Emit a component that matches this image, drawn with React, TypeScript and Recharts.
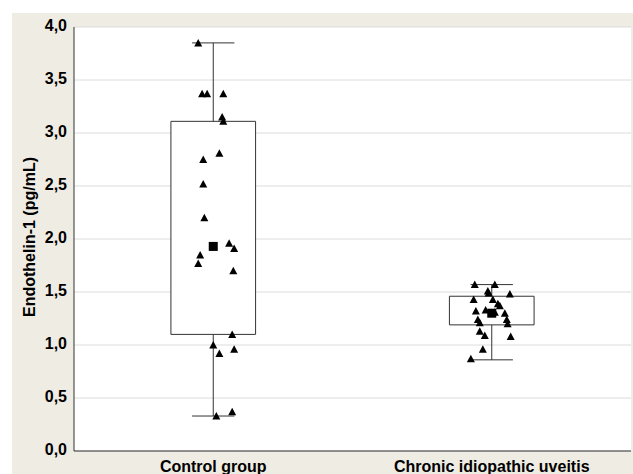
import { ScatterChart, Scatter, XAxis, YAxis, CartesianGrid, ReferenceArea, ReferenceLine } from 'recharts';

// groups sit at x = 0.5 and 1.5 on a 0..2 numeric axis
const groups = ['Control group', 'Chronic idiopathic uveitis'];
const groupCenters = [0.5, 1.5];
const yTicks = [0, 0.5, 1, 1.5, 2, 2.5, 3, 3.5, 4];

// box (low/high), whiskers (min/max) and mean per group
const boxLow = [1.1, 1.19];
const boxHigh = [3.11, 1.46];
const whiskerLow = [0.33, 0.86];
const whiskerHigh = [3.85, 1.57];
const means = [1.93, 1.3];

// raw observations with their horizontal jitter (axis units)
const controlValues = [3.85, 3.37, 3.37, 3.37, 3.15, 3.11, 2.81, 2.75, 2.52, 2.2, 1.96, 1.91, 1.85, 1.77, 1.7, 1.1, 1.0, 0.96, 0.92, 0.37, 0.33];
const controlJitter = [-0.054, -0.04, -0.022, 0.036, 0.032, 0.036, 0.022, -0.036, -0.036, -0.032, 0.057, 0.075, -0.047, -0.054, 0.072, 0.068, 0, 0.075, 0.022, 0.068, 0.011];
const uveitisValues = [1.57, 1.57, 1.51, 1.49, 1.48, 1.43, 1.43, 1.39, 1.37, 1.33, 1.32, 1.31, 1.3, 1.24, 1.24, 1.21, 1.2, 1.13, 1.09, 1.08, 0.96, 0.87];
const uveitisJitter = [-0.061, 0.011, -0.014, -0.011, 0.065, -0.065, 0.004, 0.022, 0.029, -0.022, -0.057, 0.011, 0.047, -0.05, 0.054, -0.043, 0.057, -0.043, -0.025, 0.068, -0.032, -0.075];

const BOX_HALF = 0.152;
const CAP_HALF = 0.076;

const points = [
    ...controlValues.map((v, i) => ({ x: groupCenters[0] + controlJitter[i], y: v })),
    ...uveitisValues.map((v, i) => ({ x: groupCenters[1] + uveitisJitter[i], y: v })),
];
const meanPoints = means.map((m, i) => ({ x: groupCenters[i], y: m }));

const font = '"Liberation Sans", Arial, sans-serif';

const Triangle = (props: any) => {
    const { cx, cy } = props;
    return <polygon points={`${cx},${cy - 4} ${cx - 4},${cy + 3.5} ${cx + 4},${cy + 3.5}`} fill="#000" />;
};

const Square = (props: any) => {
    const { cx, cy } = props;
    return <rect x={cx - 4.5} y={cy - 4.5} width={9} height={9} fill="#000" />;
};

export default function App() {
    return (
        <div style={{ position: 'absolute', left: 0, top: 0, width: 633, height: 474, background: '#fff' }}>
            <div style={{ position: 'absolute', left: 12, top: 13, width: 621, height: 461, background: '#efece3' }} />
            <div style={{ position: 'absolute', left: 0, top: 0 }}>
                <ScatterChart width={633} height={474} margin={{ top: 27, right: 2, bottom: 0, left: 0 }}>
                    <CartesianGrid vertical={false} stroke="#dcdcdc" fill="#fff" />
                    <XAxis
                        type="number"
                        dataKey="x"
                        domain={[0, 2]}
                        ticks={groupCenters}
                        tickFormatter={(v) => groups[groupCenters.indexOf(v)] ?? ''}
                        height={23}
                        tickSize={8}
                        tickMargin={2}
                        tickLine={false}
                        axisLine={{ stroke: '#333' }}
                        tick={{ fontSize: 16, fontWeight: 'bold', fill: '#000', fontFamily: font }}
                    />
                    <XAxis xAxisId="top" orientation="top" type="number" domain={[0, 2]} height={0} tick={false} tickLine={false} axisLine={{ stroke: '#333' }} />
                    <YAxis
                        type="number"
                        dataKey="y"
                        domain={[0, 4]}
                        ticks={yTicks}
                        width={74}
                        tickSize={5}
                        tickLine={false}
                        axisLine={{ stroke: '#333' }}
                        tickFormatter={(v) => v.toFixed(1).replace('.', ',')}
                        tick={{ fontSize: 16, fontWeight: 'bold', fill: '#000', fontFamily: font, dy: -2 }}
                        label={{
                            content: (p: any) => {
                                const vb = p.viewBox;
                                const lx = vb.x + vb.width / 2 - 8;
                                const ly = vb.y + vb.height / 2 - 2;
                                return (
                                    <text x={lx} y={ly} transform={`rotate(-90 ${lx} ${ly})`} textAnchor="middle" dominantBaseline="central"
                                        style={{ fontSize: 16, fontWeight: 'bold', fontFamily: font, fill: '#000' }}>
                                        Endothelin-1 (pg/mL)
                                    </text>
                                );
                            },
                        }}
                    />
                    <YAxis yAxisId="right" orientation="right" type="number" domain={[0, 4]} width={0} tick={false} tickLine={false} axisLine={{ stroke: '#333' }} />

                    {groupCenters.map((c, i) => (
                        <ReferenceLine key={`wh${i}`} segment={[{ x: c, y: boxHigh[i] }, { x: c, y: whiskerHigh[i] }]} stroke="#333" />
                    ))}
                    {groupCenters.map((c, i) => (
                        <ReferenceLine key={`wl${i}`} segment={[{ x: c, y: whiskerLow[i] }, { x: c, y: boxLow[i] }]} stroke="#333" />
                    ))}
                    {groupCenters.map((c, i) => (
                        <ReferenceLine key={`ch${i}`} segment={[{ x: c - CAP_HALF, y: whiskerHigh[i] }, { x: c + CAP_HALF, y: whiskerHigh[i] }]} stroke="#333" />
                    ))}
                    {groupCenters.map((c, i) => (
                        <ReferenceLine key={`cl${i}`} segment={[{ x: c - CAP_HALF, y: whiskerLow[i] }, { x: c + CAP_HALF, y: whiskerLow[i] }]} stroke="#333" />
                    ))}
                    {groupCenters.map((c, i) => (
                        <ReferenceArea key={`box${i}`} x1={c - BOX_HALF} x2={c + BOX_HALF} y1={boxLow[i]} y2={boxHigh[i]} fill="#fff" fillOpacity={1} stroke="#333" strokeWidth={1} />
                    ))}

                    <Scatter data={points} shape={<Triangle />} isAnimationActive={false} />
                    <Scatter data={meanPoints} shape={<Square />} isAnimationActive={false} />
                </ScatterChart>
            </div>
        </div>
    );
}
